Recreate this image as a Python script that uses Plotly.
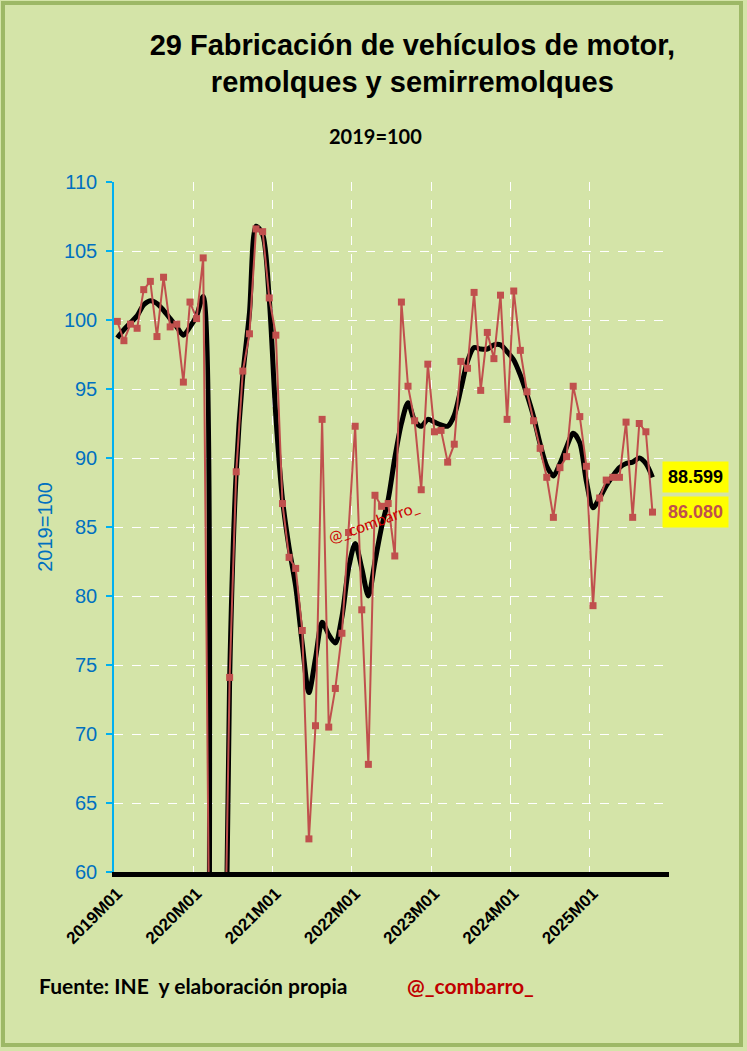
import plotly.graph_objects as go

# ---- data (2019M01 .. 2025M10), index 2019=100 ----
years = [2019, 2020, 2021, 2022, 2023, 2024, 2025]
tick_labels = ["2019M01", "2020M01", "2021M01", "2022M01", "2023M01", "2024M01", "2025M01"]

original = [99.9, 98.5, 99.7, 99.4, 102.2, 102.8, 98.8, 103.1, 99.5, 99.7, 95.5, 101.3,
            100.1, 104.5, 50.0, 8.0, 45.0, 74.1, 89.0, 96.3, 99.0, 106.6, 106.4, 101.6,
            98.9, 86.7, 82.8, 82.0, 77.5, 62.4, 70.6, 92.8, 70.5, 73.3, 77.3, 84.6,
            92.3, 79.0, 67.8, 87.3, 86.5, 86.7, 82.9, 101.3, 95.2, 92.7, 87.7, 96.8,
            91.9, 92.0, 89.7, 91.0, 97.0, 96.5, 102.0, 94.9, 99.1, 97.2, 101.8, 92.8,
            102.1, 97.8, 94.8, 92.7, 90.7, 88.6, 85.7, 89.3, 90.1, 95.2, 93.0, 89.4,
            79.3, 87.1, 88.4, 88.6, 88.6, 92.6, 85.7, 92.5, 91.9, 86.080]

trend = [98.7, 99.3, 99.8, 100.3, 101.1, 101.4, 101.2, 100.7, 100.1, 99.5, 98.9, 99.5,
         100.3, 101.7, 10.0, 0.0, 35.0, 74.0, 89.0, 96.0, 100.5, 106.8, 106.2, 101.5,
         93.0, 87.0, 83.5, 80.7, 76.5, 73.0, 75.5, 78.1, 77.2, 76.6, 78.5, 82.0,
         83.8, 82.0, 80.0, 82.5, 85.0, 87.0, 90.0, 92.5, 94.0, 92.7, 92.3, 92.8,
         92.6, 92.4, 92.3, 93.1, 95.0, 97.0, 98.0, 97.9, 97.9, 98.2, 98.2, 97.7,
         97.1, 96.0, 94.6, 93.0, 91.0, 89.4, 88.7, 89.6, 90.8, 91.8, 91.1, 88.3,
         86.4, 87.1, 88.0, 88.7, 89.3, 89.6, 89.7, 90.0, 89.6, 88.599]

months = [f"{y}M{m:02d}" for y in years for m in range(1, 13)][:len(original)]
x_idx = list(range(len(original)))
tick_pos = [12 * k for k in range(len(tick_labels))]
grid_pos = [12 * k - 0.5 for k in range(1, 8)]

BG = "#D4E4A8"
RED = "#C0504D"
BLUE_AX = "#00B0F0"
BLUE_TXT = "#0070C0"

fig = go.Figure()
fig.add_trace(go.Scatter(
    x=x_idx, y=trend, text=months, mode="lines",
    line=dict(color="black", width=5, shape="spline", smoothing=0.8),
    hovertemplate="%{text}: %{y}<extra></extra>", showlegend=False))
fig.add_trace(go.Scatter(
    x=x_idx, y=original, text=months, mode="lines+markers",
    line=dict(color=RED, width=2),
    marker=dict(symbol="square", size=7, color=RED),
    hovertemplate="%{text}: %{y}<extra></extra>", showlegend=False))

fig.update_layout(
    width=747, height=1051,
    margin=dict(l=114, r=78, t=182, b=179),
    paper_bgcolor=BG, plot_bgcolor=BG,
    font=dict(family="Arial, Liberation Sans, sans-serif", color="black"),
    title=dict(text="<b>29 Fabricación de vehículos de motor,<br>remolques y semirremolques</b>",
               x=0.552, xanchor="center", y=0.948, yanchor="top", yref="container",
               font=dict(size=29, color="black")),
    showlegend=False,
)
fig.update_xaxes(
    range=[-0.5, 83.5], tickmode="array", tickvals=tick_pos,
    ticktext=[f"<b>{t}</b>" for t in tick_labels],
    tickangle=-45, tickfont=dict(size=17, color="black"),
    showgrid=False, zeroline=False, ticks="",
    showline=True, linecolor="black", linewidth=5,
    minor=dict(tickmode="array", tickvals=grid_pos, showgrid=True,
               gridcolor="white", griddash="dash", gridwidth=1, ticks=""),
)
fig.update_yaxes(
    range=[60, 110], tickmode="linear", tick0=60, dtick=5,
    tickfont=dict(size=20, color=BLUE_TXT),
    showgrid=True, gridcolor="white", griddash="dash", gridwidth=1,
    zeroline=False, showline=True, linecolor=BLUE_AX, linewidth=1.5,
    ticks="outside", ticklen=6, tickcolor=BLUE_AX, tickwidth=1.5,
    ticklabelstandoff=5,
    title=dict(text="2019=100", font=dict(size=20, color=BLUE_TXT), standoff=6),
)

# subtitle
fig.add_annotation(text="<b>2019=100</b>", xref="paper", yref="paper",
                   x=(375 - 114) / 555, y=(872 - 136) / 690, yanchor="middle",
                   showarrow=False, font=dict(size=20, color="black", family="Lato, sans-serif"))
# watermark in plot
fig.add_annotation(text="@_combarro_", xref="paper", yref="paper",
                   x=(373 - 114) / 555, y=(872 - 521) / 690, xanchor="center", yanchor="middle",
                   showarrow=False, textangle=-20,
                   font=dict(size=16, color="#CC0000", family="Lato, sans-serif"))
# end labels
fig.add_annotation(text=f"<b>{trend[-1]:.3f}</b>", x=x_idx[-1], y=trend[-1],
                   xanchor="left", yanchor="middle", xshift=10, showarrow=False, bgcolor="#FFFF00",
                   borderpad=5, font=dict(size=18, color="black"))
fig.add_annotation(text=f"<b>{original[-1]:.3f}</b>", x=x_idx[-1], y=original[-1],
                   xanchor="left", yanchor="middle", xshift=10, showarrow=False, bgcolor="#FFFF00",
                   borderpad=5, font=dict(size=18, color=RED))
# footer
fig.add_annotation(text="<b>Fuente: INE&nbsp; y elaboración propia</b>", xref="paper", yref="paper",
                   x=(37 - 114) / 555, y=(872 - 985) / 690, xanchor="left", yanchor="middle",
                   showarrow=False, font=dict(size=21, color="black", family="Lato, sans-serif"))
fig.add_annotation(text="<b>@_combarro_</b>", xref="paper", yref="paper",
                   x=(405 - 114) / 555, y=(872 - 985) / 690, xanchor="left", yanchor="middle",
                   showarrow=False, font=dict(size=21, color="#C00000", family="Lato, sans-serif"))
# frame
fig.add_shape(type="rect", xref="paper", yref="paper",
              x0=(3 - 114) / 555, x1=(741 - 114) / 555,
              y0=(872 - 1045) / 690, y1=(872 - 3) / 690,
              line=dict(color="#9DB866", width=4), layer="above")

fig.write_html("out.html", config={"displayModeBar": False},
               post_script="document.body.style.margin='0';")
